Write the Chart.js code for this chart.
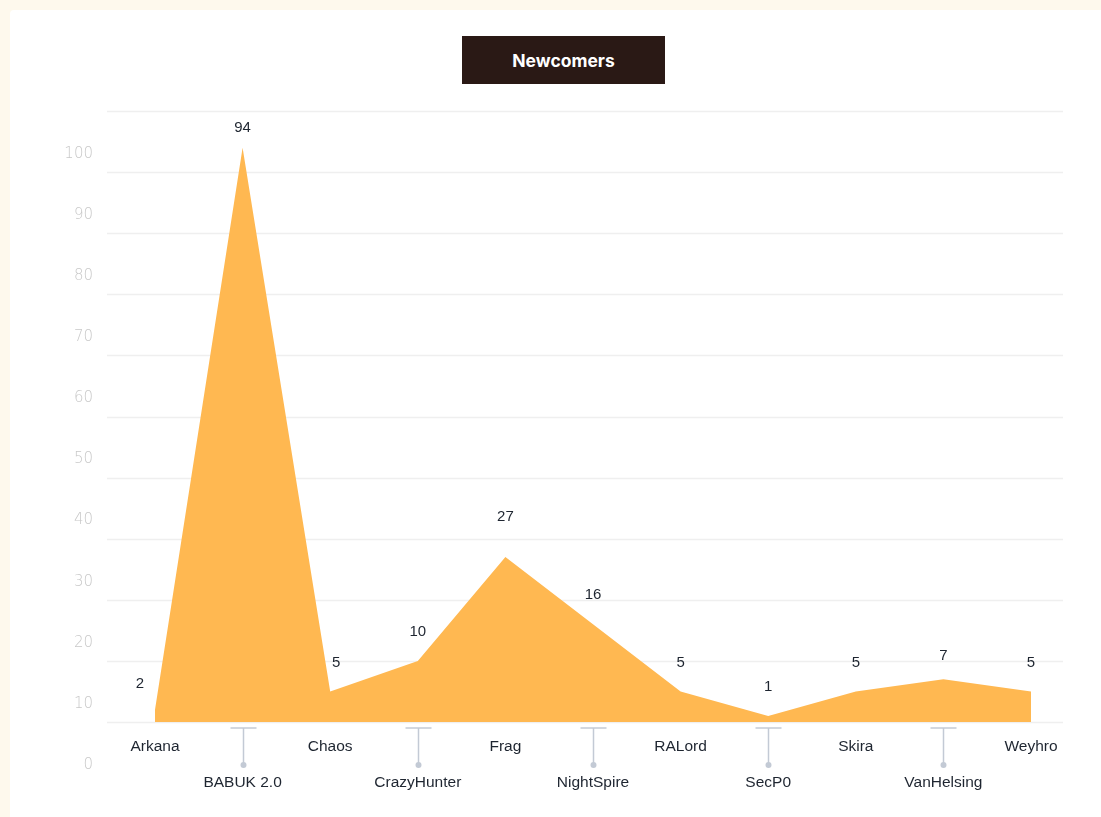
<!DOCTYPE html>
<html>
<head>
<meta charset="utf-8">
<script src="https://cdn.jsdelivr.net/npm/chart.js@4.4.0/dist/chart.umd.min.js"></script>
<style>
  html, body { margin: 0; padding: 0; }
  body { width: 1101px; height: 817px; background: #fef9ed; position: relative; overflow: hidden; }
  .card { position: absolute; left: 10px; top: 10px; right: 0; bottom: 0; background: #ffffff; border-top-left-radius: 4px; }
  .title {
    position: absolute; left: 462px; top: 36px; width: 203px; height: 48px;
    background: #2a1915; color: #ffffff; font: 700 17.5px Inter, "Liberation Sans", sans-serif;
    display: flex; align-items: center; justify-content: center;
  }
  canvas { position: absolute; left: 0; top: 0; }
</style>
</head>
<body>
<div class="card"></div>
<div class="title">Newcomers</div>
<canvas id="areaChart" width="1101" height="817"></canvas>
<script>
const categories = ['Arkana', 'BABUK 2.0', 'Chaos', 'CrazyHunter', 'Frag', 'NightSpire', 'RALord', 'SecP0', 'Skira', 'VanHelsing', 'Weyhro']
const newcomers = [2, 94, 5, 10, 27, 16, 5, 1, 5, 7, 5]
const yTicks = [0, 10, 20, 30, 40, 50, 60, 70, 80, 90, 100]

// little vertical adjustments for the value labels
const labelLift = { 0: 26, 1: 20, 4: 40, 9: 23 }

const gridLines = {
  id: 'gridLines',
  beforeDatasetsDraw(chart) {
    const { ctx, scales: { y } } = chart
    ctx.save()
    ctx.strokeStyle = '#efefef'
    ctx.lineWidth = 1.5
    yTicks.forEach(v => {
      const py = Math.round(y.getPixelForValue(v)) + 0.5
      ctx.beginPath()
      ctx.moveTo(107, py)
      ctx.lineTo(1063, py)
      ctx.stroke()
    })
    ctx.restore()
  }
}

const valueLabels = {
  id: 'valueLabels',
  afterDatasetsDraw(chart) {
    const { ctx } = chart
    const meta = chart.getDatasetMeta(0)
    ctx.save()
    ctx.fillStyle = '#1e2530'
    ctx.font = '15px "Liberation Sans", Arial, sans-serif'
    ctx.textAlign = 'center'
    ctx.textBaseline = 'middle'
    meta.data.forEach((pt, i) => {
      const lift = labelLift[i] !== undefined ? labelLift[i] : 29
      const dx = i === 0 ? -15 : (i === 2 ? 6 : 0)
      ctx.fillText(String(newcomers[i]), pt.x + dx, pt.y - lift)
    })
    ctx.restore()
  }
}

const tickMarks = {
  id: 'tickMarks',
  afterDraw(chart) {
    const { ctx, scales: { x } } = chart
    ctx.save()
    ctx.strokeStyle = '#c3cad5'
    ctx.fillStyle = '#c3cad5'
    ctx.lineWidth = 1.5
    categories.forEach((c, i) => {
      if (i % 2 === 0) return
      const px = Math.round(x.getPixelForValue(i)) + 0.5
      ctx.beginPath()
      ctx.moveTo(px - 13, 728)
      ctx.lineTo(px + 13, 728)
      ctx.moveTo(px, 728)
      ctx.lineTo(px, 764)
      ctx.stroke()
      ctx.beginPath()
      ctx.arc(px, 765, 3, 0, Math.PI * 2)
      ctx.fill()
    })
    ctx.restore()
  }
}

new Chart(document.getElementById('areaChart').getContext('2d'), {
  type: 'line',
  data: {
    labels: categories,
    datasets: [
      {
        label: 'Newcomers',
        data: newcomers,
        fill: 'origin',
        backgroundColor: '#ffb851',
        borderWidth: 0,
        borderColor: 'rgba(0,0,0,0)',
        pointRadius: 0,
        tension: 0
      }
    ]
  },
  options: {
    responsive: false,
    animation: false,
    layout: { padding: { top: 111, right: 70, bottom: 0, left: 0 } },
    plugins: {
      legend: { display: false },
      tooltip: { enabled: false }
    },
    scales: {
      x: {
        offset: false,
        grid: { display: false },
        border: { display: false },
        ticks: {
          autoSkip: false,
          maxRotation: 0,
          padding: 8,
          color: '#1e2530',
          font: { family: '"Liberation Sans", Arial, sans-serif', size: 15.5, lineHeight: 1.16 },
          callback: (v, i) => (i % 2 === 1 ? ['', '', categories[i]] : categories[i])
        },
        afterFit: s => { s.height = 95 }
      },
      y: {
        min: 0,
        max: 100,
        grid: { display: false, drawTicks: false },
        border: { display: false },
        ticks: {
          stepSize: 10,
          padding: 62,
          labelOffset: 43,
          color: '#c8c8c8',
          font: { family: '"DejaVu Sans", sans-serif', size: 15, weight: 300 }
        },
        afterFit: s => { s.width = 155 }
      }
    }
  },
  plugins: [gridLines, valueLabels, tickMarks]
})
</script>
</body>
</html>
